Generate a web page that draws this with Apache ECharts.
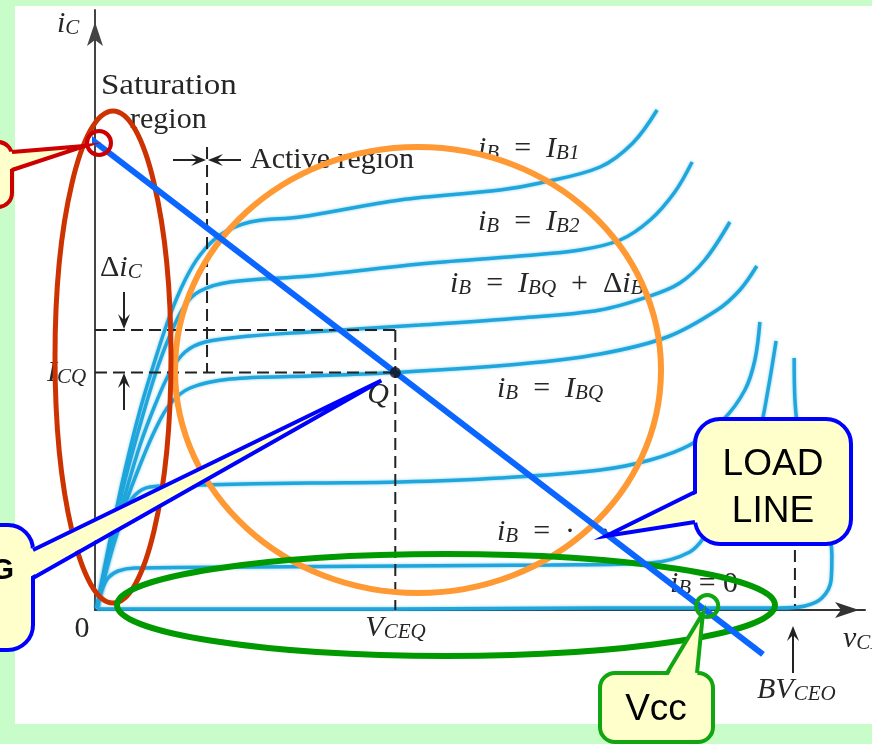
<!DOCTYPE html>
<html>
<head>
<meta charset="utf-8">
<script src="https://cdn.jsdelivr.net/npm/echarts@6/dist/echarts.min.js"></script>
<style>
  html, body { margin: 0; padding: 0; background: #c8fcc8; }
  #chart { width: 872px; height: 744px; }
</style>
</head>
<body>
<div id="chart"></div>
<script>
// BJT output characteristics i_C(v_CE), one curve per base current,
// with the DC load line and the quiescent point Q.
// Units: v_CE in volts (0..20), i_C in mA (0..12).

const vMax = 20;
const iMax = 12;

// i_B = I_B1
const curveIB1 = [[0.05,0.04],[0.39,1.40],[0.78,2.80],[1.17,4.00],[1.56,5.00],[1.95,5.90],[2.34,6.60],[2.73,7.10],[3.25,7.50],[4.03,7.76],[5.32,7.86],[7.92,8.20],[10.52,8.40],[11.56,8.54],[13.12,8.86],[13.97,9.34],[14.60,10.00]];
// i_B = I_B2
const curveIB2 = [[0.05,0.04],[0.39,1.30],[0.78,2.60],[1.17,3.70],[1.56,4.70],[1.95,5.50],[2.34,6.10],[2.73,6.38],[3.51,6.56],[5.58,6.68],[8.44,6.92],[11.04,7.08],[12.60,7.20],[13.64,7.40],[14.42,7.80],[15.06,8.36],[15.51,8.96]];
// i_B = I_BQ + Δi_B
const curveIBQplus = [[0.05,0.04],[0.39,1.20],[0.78,2.30],[1.17,3.30],[1.56,4.10],[1.95,4.76],[2.34,5.16],[2.86,5.36],[4.03,5.48],[5.58,5.56],[8.44,5.70],[11.04,5.84],[13.12,6.00],[14.42,6.28],[15.19,6.54],[15.84,7.00],[16.49,7.76]];
// i_B = I_BQ
const curveIBQ = [[0.05,0.04],[0.39,1.10],[0.78,2.10],[1.17,2.90],[1.56,3.60],[1.95,4.12],[2.47,4.44],[3.51,4.62],[5.58,4.68],[7.80,4.75],[11.04,4.92],[13.12,5.12],[14.86,5.46],[16.16,6.00],[16.75,6.40],[17.19,6.88]];
// two lower base currents
const curveIBlow1 = [[0.05,0.04],[0.26,0.70],[0.52,1.40],[0.78,1.96],[1.04,2.30],[1.43,2.46],[2.73,2.50],[5.58,2.54],[7.92,2.56],[10.52,2.64],[13.12,2.80],[14.42,3.00],[15.45,3.30],[16.31,3.80],[16.88,4.40],[17.14,5.00],[17.27,5.76]];
const curveIBlow2 = [[0.05,0.04],[0.16,0.36],[0.34,0.64],[0.60,0.78],[1.04,0.84],[4.03,0.86],[7.92,0.88],[11.82,0.90],[14.42,0.94],[15.45,1.16],[15.90,1.54],[16.36,2.10],[16.88,2.80],[17.27,3.60],[17.48,4.40],[17.69,5.38]];
// i_B = 0 (breakdown near BV_CEO)
const curveIB0 = [[0.05,0.02],[7.92,0.02],[13.12,0.04],[17.79,0.04],[18.44,0.08],[18.88,0.24],[19.12,0.60],[19.14,1.10],[18.99,1.80],[18.62,2.60],[18.31,3.40],[18.18,4.20],[18.16,5.04]];

// DC load line: i_C = iSat * (1 - v_CE / vcc)
const vcc = 15.85;
const iSat = 9.36;
const loadLineSpan = [-1.12, 17.35];

// quiescent point [V_CEQ, I_CQ] and related levels
const qPoint = [7.8, 4.75];
const icqPlusDelta = 5.6;
const vSatEdge = 2.91;
const satEdgeTop = 9.26;
const bvCeo = 18.18;
const bvDashTop = 1.2;

const CYAN = '#1fa6dc';
const INK = '#262626';
const NOTE_FILL = '#ffffcc';
const SERIF = '"Liberation Serif","Times New Roman",serif';
const SANS = '"Liberation Sans",Arial,sans-serif';

const iLoad = v => iSat * (1 - v / vcc);

const chart = echarts.init(document.getElementById('chart'), null, { renderer: 'canvas' });

const curveSeries = [curveIB1, curveIB2, curveIBQplus, curveIBQ, curveIBlow1, curveIBlow2, curveIB0].map(d => ({
  type: 'line', data: d, smooth: 0.35, symbol: 'none', silent: true, z: 2,
  lineStyle: { color: CYAN, width: 3.5, shadowBlur: 3, shadowColor: 'rgba(30,160,220,0.55)' }
}));

const dashSegs = [
  [[0, icqPlusDelta], [qPoint[0], icqPlusDelta]],
  [[0, qPoint[1]], [qPoint[0], qPoint[1]]],
  [[qPoint[0], icqPlusDelta], [qPoint[0], 0]],
  [[vSatEdge, satEdgeTop], [vSatEdge, qPoint[1]]],
  [[bvCeo, bvDashTop], [bvCeo, 0.08]]
];
const dashSeries = dashSegs.map(d => ({
  type: 'line', data: d, symbol: 'none', silent: true, z: 2,
  lineStyle: { color: '#222', width: 2, type: [12, 6] }
}));

const axisCommon = {
  type: 'value', min: 0,
  axisTick: { show: false }, axisLabel: { show: false }, splitLine: { show: false },
};

chart.setOption({
  animation: false,
  backgroundColor: '#c8fcc8',
  grid: { left: 95, top: 10, right: 7, bottom: 134 },
  xAxis: Object.assign({}, axisCommon, {
    max: vMax,
    axisLine: { symbol: ['none', 'arrow'], symbolSize: [12, 24], symbolOffset: [0, -6], lineStyle: { color: '#333', width: 2 } }
  }),
  yAxis: Object.assign({}, axisCommon, {
    max: iMax,
    axisLine: { symbol: ['none', 'arrow'], symbolSize: [12, 24], symbolOffset: [0, -12], lineStyle: { color: '#444', width: 2 } }
  }),
  series: curveSeries.concat(dashSeries).concat([
    {
      type: 'line', data: loadLineSpan.map(v => [v, iLoad(v)]), symbol: 'none', clip: false, silent: true, z: 4,
      lineStyle: { color: '#0a66ff', width: 6 }
    },
    {
      type: 'scatter', data: [qPoint], symbolSize: 11, z: 4, silent: true,
      itemStyle: { color: '#111' }
    }
  ])
});

const P = (v, i) => chart.convertToPixel({ gridIndex: 0 }, [v, i]);

const rich = {
  m: { fontFamily: SERIF, fontStyle: 'italic', fontSize: 30, lineHeight: 36, verticalAlign: 'bottom', fill: INK },
  r: { fontFamily: SERIF, fontSize: 30, lineHeight: 36, verticalAlign: 'bottom', fill: INK },
  s: { fontFamily: SERIF, fontStyle: 'italic', fontSize: 21, lineHeight: 16, verticalAlign: 'bottom', fill: INK }
};
function label(x, y, text, align, sx) {
  return {
    type: 'text', z: 2, x: x, y: y, scaleX: sx || 1, silent: true,
    style: { text: text, rich: rich, fill: INK, font: '30px ' + SERIF, align: align || 'left', verticalAlign: 'middle' }
  };
}
function line(points, z) {
  return { type: 'polyline', z: z || 2, silent: true, shape: { points: points }, style: { stroke: '#222', lineWidth: 2, fill: null } };
}
// barbed arrow head; dir is the unit direction the arrow points to
function head(tip, dir) {
  const [x, y] = tip, [dx, dy] = dir, px = -dy, py = dx;
  return {
    type: 'polygon', z: 2, silent: true,
    shape: { points: [[x - 15 * dx + 6 * px, y - 15 * dy + 6 * py], [x, y], [x - 15 * dx - 6 * px, y - 15 * dy - 6 * py], [x - 9 * dx, y - 9 * dy]] },
    style: { fill: '#222' }
  };
}
function callout(o) {
  const b0 = o.base[0], b1 = o.base[1];
  return [
    { type: 'rect', z: 6, silent: true, shape: { x: o.x, y: o.y, width: o.w, height: o.h, r: o.r }, style: { fill: NOTE_FILL, stroke: o.color, lineWidth: 4 } },
    { type: 'polygon', z: 6.01, silent: true, shape: { points: [[b0[0] + o.inset[0], b0[1] + o.inset[1]], o.tip, [b1[0] + o.inset[0], b1[1] + o.inset[1]]] }, style: { fill: NOTE_FILL } },
    { type: 'polyline', z: 6.02, silent: true, shape: { points: [b0, o.tip, b1] }, style: { stroke: o.color, lineWidth: 4, fill: null, lineJoin: 'miter', miterLimit: 30 } }
  ];
}
function noteText(x, y, text, size, weight) {
  return {
    type: 'text', z: 6.03, x: x, y: y, silent: true,
    style: { text: text, font: (weight || 'normal') + ' ' + size + 'px ' + SANS, fill: '#000', align: 'center', verticalAlign: 'middle', lineHeight: 47 }
  };
}

const q = P(qPoint[0], qPoint[1]);
const o = P(0, 0);
const satPt = P(0, iSat);
const vccPt = P(vcc, 0);
const EQ = '{r|  =  }';

const elements = [
  // paper
  { type: 'rect', z: -10, silent: true, shape: { x: 15, y: 6, width: 857, height: 718 }, style: { fill: '#ffffff' } },

  // axis and region texts
  label(57, 21, '{m|i}{s|C}'),
  label(101, 83, '{r|Saturation}', 'left', 1.1),
  label(130, 117, '{r|region}'),
  label(250, 157, '{r|Active region}'),
  label(100, 265, '{r|Δ}{m|i}{s|C}'),
  label(47, 370, '{m|I}{s|CQ}'),
  label(478, 146, '{m|i}{s|B}' + EQ + '{m|I}{s|B1}'),
  label(478, 219, '{m|i}{s|B}' + EQ + '{m|I}{s|B2}'),
  label(450, 281, '{m|i}{s|B}' + EQ + '{m|I}{s|BQ}{r|  +  Δ}{m|i}{s|B}'),
  label(497, 386, '{m|i}{s|B}' + EQ + '{m|I}{s|BQ}'),
  label(497, 529, '{m|i}{s|B}' + EQ + '{r|· · ·}'),
  label(670, 581, '{m|i}{s|B}{r| = 0}'),
  label(q[0] - 28, q[1] + 20, '{m|Q}'),
  label(o[0] - 13, o[1] + 16, '{r|0}', 'center'),
  label(q[0] - 30, o[1] + 15, '{m|V}{s|CEQ}'),
  label(757, 687, '{m|BV}{s|CEO}'),
  label(843, 636, '{m|v}{s|CE}'),

  // Δi_C arrows
  line([[124, 292], [124, 322]]), head([124, 329], [0, 1]),
  line([[124, 410], [124, 380]]), head([124, 373], [0, -1]),
  // saturation / active boundary arrows
  line([[173, 160], [200, 160]]), head([206, 160], [1, 0]),
  line([[241, 160], [214, 160]]), head([208, 160], [-1, 0]),
  // BV_CEO arrow
  line([[793, 673], [793, 634]]), head([793, 626], [0, -1]),

  // highlight rings
  { type: 'ellipse', z: 3, silent: true, shape: { cx: 418, cy: 370, rx: 243, ry: 223 }, style: { fill: null, stroke: '#ff9933', lineWidth: 6 } },
  { type: 'ellipse', z: 3.01, silent: true, shape: { cx: 113, cy: 357, rx: 58, ry: 246 }, style: { fill: null, stroke: '#cc3300', lineWidth: 5 } },
  { type: 'ellipse', z: 3.02, silent: true, shape: { cx: 446, cy: 605, rx: 329, ry: 51 }, style: { fill: null, stroke: '#009900', lineWidth: 6 } },
  { type: 'circle', z: 5, silent: true, shape: { cx: satPt[0] + 4, cy: satPt[1] + 1, r: 12 }, style: { fill: null, stroke: '#cc0000', lineWidth: 4 } },
  { type: 'circle', z: 5, silent: true, shape: { cx: vccPt[0] + 2, cy: vccPt[1] - 4, r: 11 }, style: { fill: null, stroke: '#11a611', lineWidth: 4 } }
]
  .concat(callout({ x: -40, y: 142, w: 52, h: 65, r: 14, base: [[12, 152], [12, 170]], inset: [-5, 0], tip: [85, 146], color: '#cc0000' }))
  .concat(callout({ x: -220, y: 525, w: 253, h: 125, r: 25, base: [[33, 550], [33, 578]], inset: [-5, 0], tip: [q[0] - 14, q[1] + 8], color: '#0000ff' }))
  .concat([{
    type: 'text', z: 6.03, x: 14, y: 571, silent: true,
    style: { text: 'OPERATING', font: 'bold 30px ' + SANS, fill: '#000', align: 'right', verticalAlign: 'middle' }
  }])
  .concat(callout({ x: 695, y: 419, w: 156, h: 125, r: 25, base: [[695, 492], [695, 522]], inset: [5, 0], tip: [606, 536], color: '#0000ff' }))
  .concat([noteText(773, 488, 'LOAD\nLINE', 37)])
  .concat(callout({ x: 600, y: 673, w: 113, h: 69, r: 15, base: [[667, 673], [697, 673]], inset: [0, 5], tip: [703, 613], color: '#11a611' }))
  .concat([noteText(656, 710, 'Vcc', 37)]);

chart.setOption({ graphic: { elements: elements } });
</script>
</body>
</html>
